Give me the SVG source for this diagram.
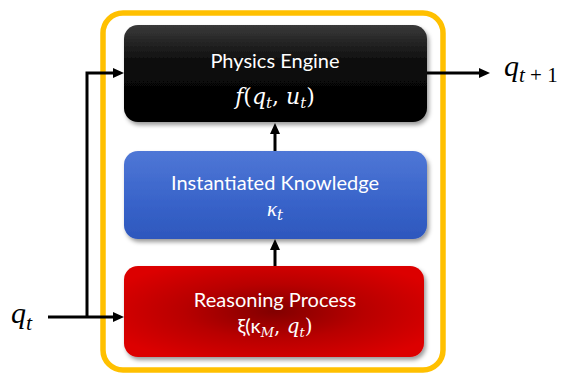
<svg xmlns="http://www.w3.org/2000/svg" width="563" height="374" viewBox="0 0 563 374">
<style>
.lbl{font-family:Lato,"Open Sans",sans-serif;font-size:20px;fill:#fff;text-anchor:middle}
.math{font-family:"DejaVu Serif","Liberation Serif",serif;font-style:italic;fill:#fff;text-anchor:middle}
.up{font-style:normal}
.ext{font-family:"Liberation Serif","DejaVu Serif",serif;font-style:italic;fill:#000;font-size:30px}
.conn{stroke:#000;stroke-width:3;fill:none}
</style>
<defs>
<linearGradient id="gBlack" x1="0" y1="0" x2="0" y2="1">
<stop offset="0" stop-color="#3a3a3a"/>
<stop offset="0.4" stop-color="#0a0a0a"/>
<stop offset="1" stop-color="#000"/>
</linearGradient>
<linearGradient id="gBlue" x1="0" y1="0" x2="0" y2="1">
<stop offset="0" stop-color="#4f77d6"/>
<stop offset="0.6" stop-color="#3863c9"/>
<stop offset="1" stop-color="#2d57bd"/>
</linearGradient>
<radialGradient id="gRed" cx="0.5" cy="0.5" r="0.6">
<stop offset="0" stop-color="#820000"/>
<stop offset="0.5" stop-color="#b80000"/>
<stop offset="1" stop-color="#dc0000"/>
</radialGradient>
<filter id="sh" x="-10%" y="-10%" width="125%" height="130%">
<feDropShadow dx="2" dy="3" stdDeviation="2" flood-color="#000" flood-opacity="0.4"/>
</filter>
<marker id="ah" viewBox="0 0 11 11" refX="5" refY="5.5" markerWidth="11" markerHeight="11" markerUnits="userSpaceOnUse" orient="auto">
<path d="M0,0.5 L11,5.5 L0,10.5 z" fill="#000"/>
</marker>
</defs>
<rect width="563" height="374" fill="#fff"/>
<g id="frame">
<rect x="103" y="13" width="340" height="357" rx="20" fill="none" stroke="#ffc000" stroke-width="5.5"/>
</g>
<g id="physics-engine">
<rect x="124" y="25" width="303" height="97" rx="14" fill="url(#gBlack)" filter="url(#sh)"/>
<text class="lbl" x="275" y="68">Physics Engine</text>
<text class="math" x="275" y="104" font-size="22">f<tspan class="up">(</tspan>q<tspan font-size="15" dy="4">t</tspan><tspan class="up" dy="-4">, </tspan>u<tspan font-size="15" dy="4">t</tspan><tspan class="up" dy="-4">)</tspan></text>
</g>
<g id="instantiated-knowledge">
<rect x="124" y="151" width="303" height="88" rx="14" fill="url(#gBlue)" filter="url(#sh)"/>
<text class="lbl" x="275" y="190">Instantiated Knowledge</text>
<text class="math" x="275" y="216" font-size="21"><tspan font-family="'Liberation Serif',serif">κ</tspan><tspan font-size="15" dy="4">t</tspan></text>
</g>
<g id="reasoning-process">
<rect x="124" y="266" width="300" height="91" rx="14" fill="url(#gRed)" filter="url(#sh)"/>
<text class="lbl" x="275" y="307">Reasoning Process</text>
<text class="math" x="275" y="333" font-size="20"><tspan class="up" font-family="Lato,'Open Sans',sans-serif">ξ(κ</tspan><tspan font-size="13" dy="4">M</tspan><tspan class="up" dy="-4">, </tspan>q<tspan font-size="13" dy="4">t</tspan><tspan class="up" dy="-4">)</tspan></text>
</g>
<g id="connectors">
<path class="conn" d="M48 317 H118" marker-end="url(#ah)"/>
<path class="conn" d="M87 317 V73 H118" marker-end="url(#ah)"/>
<path class="conn" d="M427 73 H484" marker-end="url(#ah)"/>
<path class="conn" d="M275 151 V129" marker-end="url(#ah)"/>
<path class="conn" d="M275 266 V245" marker-end="url(#ah)"/>
</g>
<g id="input-label">
<text class="ext" x="11" y="323">q<tspan font-size="22" dy="7">t</tspan></text>
</g>
<g id="output-label">
<text class="ext" x="504" y="76">q<tspan font-size="21" dy="6">t<tspan class="up"> + 1</tspan></tspan></text>
</g>
</svg>
